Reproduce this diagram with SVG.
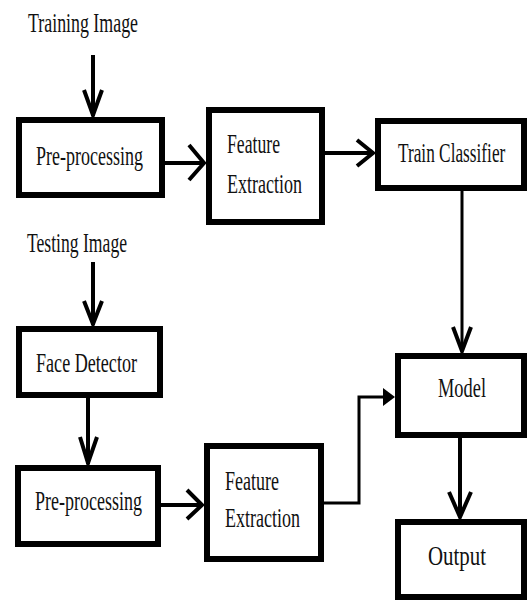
<svg xmlns="http://www.w3.org/2000/svg" width="528" height="601" viewBox="0 0 528 601">
  <style>
    .box { fill: #ffffff; stroke: #000000; stroke-width: 6; }
    .lbl { font-family: "Liberation Serif", "Times New Roman", serif; font-size: 27px; fill: #111111; }
    .wire { fill: none; stroke: #000000; stroke-width: 4; stroke-linejoin: miter; }
    .thin { fill: none; stroke: #000000; stroke-width: 3; }
    .head { fill: none; stroke: #000000; stroke-width: 4; stroke-linejoin: miter; stroke-linecap: butt; }
  </style>
  <rect width="528" height="601" fill="#ffffff"/>

  <!-- free-standing input labels -->
  <text class="lbl" x="28" y="32" textLength="110" lengthAdjust="spacingAndGlyphs">Training Image</text>
  <text class="lbl" x="27" y="252" textLength="100" lengthAdjust="spacingAndGlyphs">Testing Image</text>

  <!-- training branch -->
  <g id="train-preprocessing">
    <rect class="box" x="19" y="120" width="143" height="75"/>
    <text class="lbl" x="36" y="165" textLength="107" lengthAdjust="spacingAndGlyphs">Pre-processing</text>
  </g>
  <g id="train-feature-extraction">
    <rect class="box" x="209" y="110" width="113" height="112"/>
    <text class="lbl" x="227" y="153" textLength="53" lengthAdjust="spacingAndGlyphs">Feature</text>
    <text class="lbl" x="227" y="193" textLength="75" lengthAdjust="spacingAndGlyphs">Extraction</text>
  </g>
  <g id="train-classifier">
    <rect class="box" x="378" y="121" width="146" height="67"/>
    <!-- condensed horizontally so the label sits inside the box -->
    <text class="lbl" transform="translate(398,162) scale(0.64,1)">Train Classifier</text>
  </g>

  <!-- testing branch -->
  <g id="face-detector">
    <rect class="box" x="19" y="329" width="141" height="66"/>
    <text class="lbl" x="36" y="372" textLength="101" lengthAdjust="spacingAndGlyphs">Face Detector</text>
  </g>
  <g id="test-preprocessing">
    <rect class="box" x="18" y="468" width="140" height="76"/>
    <text class="lbl" x="35" y="510" textLength="107" lengthAdjust="spacingAndGlyphs">Pre-processing</text>
  </g>
  <g id="test-feature-extraction">
    <rect class="box" x="207" y="446" width="114" height="113"/>
    <text class="lbl" x="225" y="490" textLength="54" lengthAdjust="spacingAndGlyphs">Feature</text>
    <text class="lbl" x="225" y="527" textLength="75" lengthAdjust="spacingAndGlyphs">Extraction</text>
  </g>
  <g id="model">
    <rect class="box" x="398" y="356" width="126" height="79"/>
    <text class="lbl" x="438" y="397" textLength="48" lengthAdjust="spacingAndGlyphs">Model</text>
  </g>
  <g id="output">
    <rect class="box" x="398" y="522" width="126" height="75"/>
    <text class="lbl" x="428" y="565" textLength="58" lengthAdjust="spacingAndGlyphs">Output</text>
  </g>

  <g id="connectors">
    <!-- Training Image -> Pre-processing -->
    <line class="wire" x1="93" y1="55" x2="93" y2="116"/>
    <polyline class="head" points="84,90 93,115 102,90"/>
    <!-- Pre-processing -> Feature Extraction (top) -->
    <line class="wire" x1="165" y1="163" x2="204" y2="163"/>
    <polyline class="head" points="189,145 204,163 189,180"/>
    <!-- Feature Extraction -> Train Classifier -->
    <line class="wire" x1="325" y1="153" x2="373" y2="153"/>
    <polyline class="head" points="357,140 373,153 357,166"/>
    <!-- Train Classifier -> Model -->
    <line class="thin" x1="462" y1="191" x2="462" y2="351"/>
    <polyline class="head" points="453,327 462,351 471,327"/>
    <!-- Testing Image -> Face Detector -->
    <line class="wire" x1="93" y1="262" x2="93" y2="325"/>
    <polyline class="head" points="84,301 93,324 102,301"/>
    <!-- Face Detector -> Pre-processing -->
    <line class="wire" x1="88" y1="398" x2="88" y2="464"/>
    <polyline class="head" points="80,437 88,463 97,437"/>
    <!-- Pre-processing -> Feature Extraction (bottom) -->
    <line class="wire" x1="161" y1="505" x2="202" y2="505"/>
    <polyline class="head" points="187,490 202,505 187,519"/>
    <!-- Feature Extraction -> Model (elbow) -->
    <polyline class="thin" points="324,503 359,503 359,397 385,397"/>
    <polygon points="383,388 395,397 383,406" fill="#000000"/>
    <!-- Model -> Output -->
    <line class="wire" x1="460" y1="438" x2="460" y2="517"/>
    <polyline class="head" points="449,492 460,517 471,492"/>
  </g>
</svg>
